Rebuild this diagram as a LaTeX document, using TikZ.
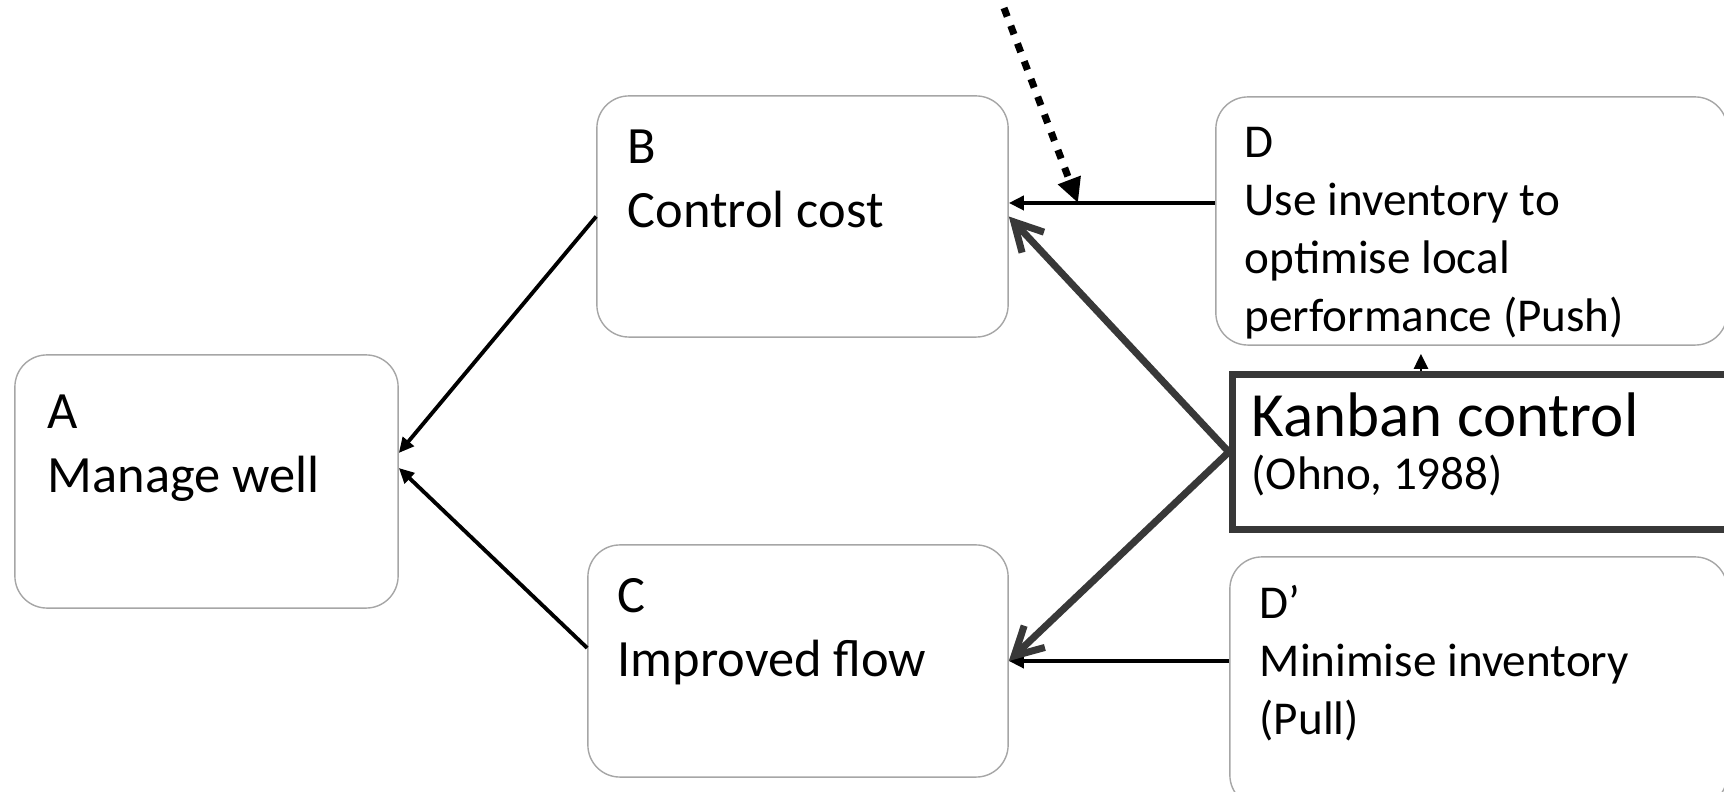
\documentclass[tikz,border=0pt]{standalone}
\usepackage{fontspec}
\setmainfont{Carlito}
\usepackage{xcolor}
\usepackage{tikz}
\usetikzlibrary{arrows.meta, positioning}
\definecolor{boxgray}{HTML}{A6A6A6}
\definecolor{kanbangray}{HTML}{383838}

\begin{document}
\begin{tikzpicture}[
      x=0.01cm, y=-0.01cm,
      box/.style={draw=boxgray, line width=0.4pt, rounded corners=0.32cm, inner sep=0pt},
      kanbanbox/.style={draw=kanbangray, line width=2pt, inner sep=0pt},
      bigtext/.style={anchor=base west, align=left, inner sep=0pt, font=\fontsize{14.9}{18.2}\selectfont},
      smalltext/.style={anchor=base west, align=left, inner sep=0pt, font=\fontsize{13.4}{16.5}\selectfont},
      arrow/.style={-{Triangle[length=4.3pt, width=4pt]}, line width=1.1pt},
      thickarrow/.style={-{Straight Barb[length=2.8mm, width=3mm]}, line width=2pt, draw=kanbangray, line cap=round},
      dottedarrow/.style={-{Triangle[length=7pt, width=6.5pt]}, line width=2pt, dash pattern=on 2.6pt off 2.8pt}
    ]
    \clip (0,0) rectangle (1724,792);

    % boxes
    \node[box, minimum width=3.83cm, minimum height=2.53cm] (A) at (206.5,481.5) {};
    \node[box, minimum width=4.11cm, minimum height=2.41cm] (B) at (802.5,216.5) {};
    \node[box, minimum width=4.20cm, minimum height=2.32cm] (C) at (798,661) {};
    \node[box, minimum width=5.11cm, minimum height=2.48cm] (D) at (1471.5,221) {};
    \node[box, minimum width=4.97cm, minimum height=2.50cm] (Dp) at (1478.5,682) {};
    \node[kanbanbox, minimum width=5.50cm, minimum height=1.55cm] (K) at (1507.5,452) {};

    % texts (placed at the baseline of their last line)
    \node[bigtext] (A-txt) at (47,493) {A\\Manage well};
    \node[bigtext] (B-txt) at (627,228) {B\\Control cost};
    \node[bigtext] (C-txt) at (617,677) {C\\Improved flow};
    \node[smalltext] (D-txt) at (1244,332) {D\\Use inventory to\\optimise local\\performance (Push)};
    \node[smalltext] (Dp-txt) at (1259,735) {D’\\Minimise inventory\\(Pull)};
    \node[anchor=base west, inner sep=0pt, font=\fontsize{17.9}{21}\selectfont] (K-title) at (1251,437) {Kanban control};
    \node[smalltext] (K-ref) at (1251,490) {(Ohno, 1988)};

    % connectors
    \coordinate (D-in) at ([yshift=0.18cm]D.west);
    \coordinate (K-up) at ([xshift=-0.865cm]K.north);
    \coordinate (dot-start) at (1004,8);
    \coordinate (dot-x) at (1078,0);

    \draw[arrow] (B.west) -- ([yshift=0.285cm]A.east);
    \draw[arrow] ([yshift=0.13cm]C.west) -- ([yshift=0.135cm]A.east);
    \draw[arrow] (D-in) -- (D-in -| B.east);
    \draw[arrow] (C.east -| Dp.west) -- (C.east);
    \draw[thickarrow] (K.west) -- (B.east);
    \draw[thickarrow] (K.west) -- (C.east);
    \draw[arrow, line width=0.8pt, shorten >=2.3pt] (K-up) -- (K-up |- D.south);
    \draw[dottedarrow] (dot-start) -- (D-in -| dot-x);
\end{tikzpicture}
\end{document}
